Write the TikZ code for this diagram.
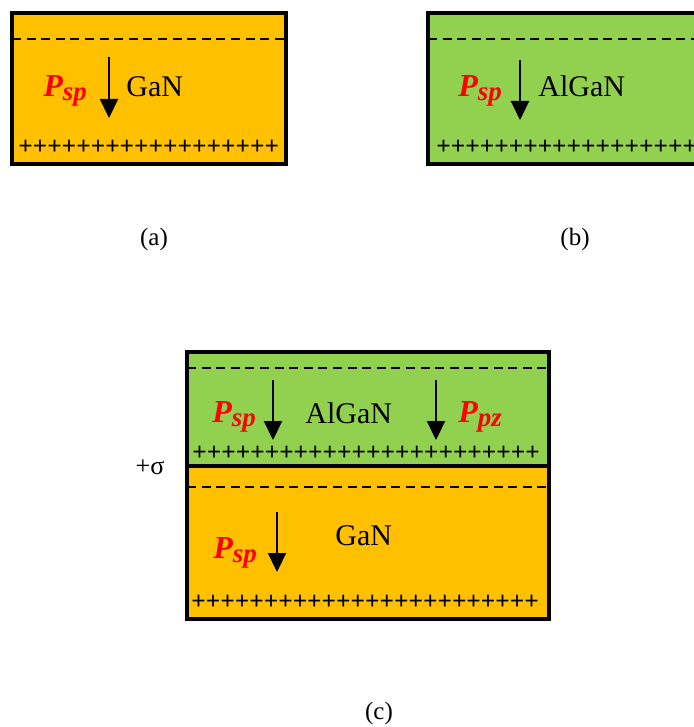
\documentclass[tikz,border=0pt]{standalone}
\usepackage{fontspec}
\setmainfont{Liberation Serif}
\usetikzlibrary{arrows.meta}

\definecolor{ganorange}{HTML}{FFC000}
\definecolor{algangreen}{HTML}{92D050}
\newcommand{\pol}[1]{\textcolor{red}{\bfseries\itshape\fontsize{16}{18}\selectfont P\raisebox{-2pt}{\fontsize{13.5}{15}\selectfont #1}}}

\begin{document}
\begin{tikzpicture}[
  x=0.5pt, y=-0.5pt,
  >={Triangle[length=9.5pt,width=9pt]},
  layer/.style = {draw=black, line width=2pt},
  bound/.style = {line width=1.3pt, dash pattern=on 4.5pt off 2.8pt},
  pvec/.style  = {->, line width=1.1pt},
  mat/.style   = {font=\fontsize{15}{18}\selectfont, inner sep=0pt, anchor=base west},
  chg/.style   = {font=\fontsize{12.7}{15}\selectfont\bfseries, inner sep=0pt, anchor=west},
  sublbl/.style = {font=\fontsize{12.5}{15}\selectfont, inner sep=0pt},
]
\useasboundingbox (0,0) rectangle (694,727);
\clip (0,0) rectangle (694,727);

%% (a) bare GaN
\filldraw[layer, fill=ganorange] (12,13) rectangle (286,164);
\draw[bound] (12,39) -- (286,39);
\node[chg] (pa) at (18,147) {++++++++++++++++++};
\node[mat] (psa) at (43,97) {\pol{sp}};
\node[mat] (gana) at (126,97) {GaN};
\draw[pvec] (109,57) -- (109,118);
\node[sublbl] (capa) at (154,239) {(a)};

%% (b) bare AlGaN
\filldraw[layer, fill=algangreen] (428,13) rectangle (710,164);
\draw[bound] (428,39) -- (710,39);
\node[chg] (pb) at (436,147) {++++++++++++++++++};
\node[mat] (psb) at (458,97) {\pol{sp}};
\node[mat] (algb) at (538,97) {AlGaN};
\draw[pvec] (520,60) -- (520,120);
\node[sublbl] (capb) at (575,239) {(b)};

%% (c) AlGaN on GaN
\fill[algangreen] (187,352) rectangle (549,466);
\fill[ganorange]  (187,466) rectangle (549,619);
\draw[layer] (187,352) rectangle (549,619);
\draw[layer] (187,466) -- (549,466);
\draw[bound] (187,368) -- (549,368);
\draw[bound] (187,487) -- (549,487);
\node[chg] (pc1) at (192,453) {++++++++++++++++++++++++};
\node[chg] (pc2) at (191,602) {++++++++++++++++++++++++};

\node[mat] (psc1) at (212,422) {\pol{sp}};
\node[mat] (algc) at (305,423) {AlGaN};
\node[mat] (pzc)  at (458,422) {\pol{pz}};
\draw[pvec] (273,380) -- (273,440);
\draw[pvec] (436,380) -- (436,440);

\node[mat] (psc2) at (213,558) {\pol{sp}};
\node[mat] (ganc) at (335,545) {GaN};
\draw[pvec] (277,512) -- (277,572);

\node[sublbl, font=\fontsize{13}{15}\selectfont] (sig) at (150,467) {+σ};
\node[sublbl] (capc) at (379,713) {(c)};

\end{tikzpicture}
\end{document}
